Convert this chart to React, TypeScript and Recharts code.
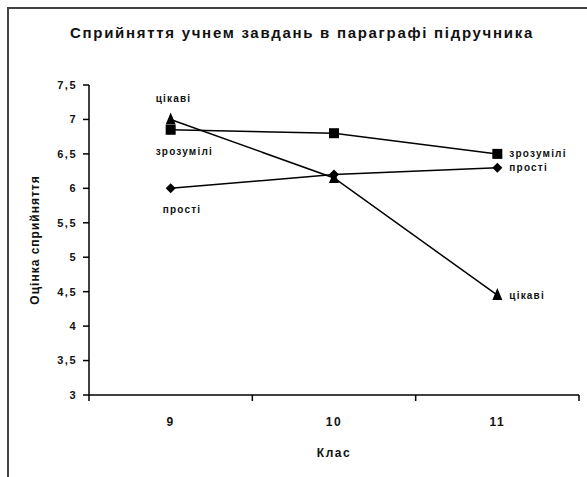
import React from 'react';
import { LineChart, Line, XAxis, YAxis, LabelList } from 'recharts';

const classes = [9, 10, 11];
const prosti = [6.0, 6.2, 6.3];
const zrozumili = [6.85, 6.8, 6.5];
const tsikavi = [7.0, 6.15, 4.45];
const yTicks = [3, 3.5, 4, 4.5, 5, 5.5, 6, 6.5, 7, 7.5];
const xTicks = [8.5, 9, 9.5, 10, 10.5, 11, 11.5];

const data = classes.map((klas, i) => ({
  klas,
  prosti: prosti[i],
  zrozumili: zrozumili[i],
  tsikavi: tsikavi[i],
}));

const FONT = '"Liberation Sans", Arial, sans-serif';

const Diamond = (p: any) => {
  const { cx, cy } = p;
  return (
    <path
      key={`d-${p.index}`}
      d={`M${cx},${cy - 5} L${cx + 5},${cy} L${cx},${cy + 5} L${cx - 5},${cy} Z`}
      fill="#000"
    />
  );
};

const Square = (p: any) => (
  <rect key={`s-${p.index}`} x={p.cx - 5} y={p.cy - 5} width={10} height={10} fill="#000" />
);

const Triangle = (p: any) => {
  const { cx, cy } = p;
  return (
    <path
      key={`t-${p.index}`}
      d={`M${cx},${cy - 7} L${cx + 5},${cy + 5} L${cx - 5},${cy + 5} Z`}
      fill="#000"
    />
  );
};

// Excel-style point labels: first point gets its own offset, last one goes to the right
const makeLabel = (name: string, dx: number, dy: number) => (props: any) => {
  const x = props.x ?? props.viewBox?.x;
  const y = props.y ?? props.viewBox?.y;
  if (props.index === 1) return <g />;
  const style = { fontFamily: FONT, fontSize: 10, fontWeight: 700, letterSpacing: 1.2 };
  if (props.index === 0) {
    return (
      <text x={x + dx} y={y + dy} dominantBaseline="central" fill="#111" style={style}>
        {name}
      </text>
    );
  }
  return (
    <text x={x + 12} y={y} dominantBaseline="central" fill="#111" style={style}>
      {name}
    </text>
  );
};

const XTick = (props: any) => {
  const { x, y, payload } = props;
  const v = payload.value;
  if (v % 1 !== 0) {
    return <line x1={x} x2={x} y1={y} y2={y + 6} stroke="#000" strokeWidth={1.5} />;
  }
  return (
    <text
      x={x}
      y={y + 27}
      textAnchor="middle"
      dominantBaseline="central"
      fill="#111"
      style={{ fontFamily: FONT, fontSize: 12, fontWeight: 700, letterSpacing: 1.5 }}
    >
      {v}
    </text>
  );
};

export default function App() {
  return (
    <div
      style={{
        position: 'fixed',
        left: 7,
        top: 7,
        width: 600,
        height: 490,
        borderLeft: '2px solid #444',
        borderTop: '2px solid #444',
        background: '#fff',
        overflow: 'hidden',
      }}
    >
      <div
        style={{
          position: 'absolute',
          top: 15,
          left: 0,
          width: 586,
          textAlign: 'center',
          fontFamily: FONT,
          fontSize: 15,
          fontWeight: 700,
          letterSpacing: 1.7,
          color: '#111',
        }}
      >
        Сприйняття учнем завдань в параграфі підручника
      </div>
      <LineChart
        width={578}
        height={470}
        data={data}
        margin={{ top: 76, right: 8, bottom: 0, left: 0 }}
      >
        <XAxis
          dataKey="klas"
          type="number"
          domain={[8.5, 11.5]}
          ticks={xTicks}
          interval={0}
          tickLine={false}
          tickSize={0}
          tickMargin={0}
          tick={<XTick />}
          height={84}
          axisLine={{ stroke: '#000', strokeWidth: 1.5 }}
          label={{
            value: 'Клас',
            position: 'insideBottom',
            offset: 22,
            style: { fontFamily: FONT, fontSize: 12, fontWeight: 700, letterSpacing: 1.5, fill: '#111' },
          }}
        />
        <YAxis
          domain={[3, 7.5]}
          ticks={yTicks}
          interval={0}
          width={80}
          tickSize={6}
          tickMargin={6}
          tickFormatter={(v: number) => String(v).replace('.', ',')}
          tick={{ fontFamily: FONT, fontSize: 11, fontWeight: 700, fill: '#111', letterSpacing: 1.5 }}
          axisLine={{ stroke: '#000', strokeWidth: 1.5 }}
          tickLine={{ stroke: '#000', strokeWidth: 1.5 }}
          label={{
            value: 'Оцінка сприйняття',
            angle: -90,
            position: 'center',
            dx: -14,
            style: { fontFamily: FONT, fontSize: 12, fontWeight: 700, letterSpacing: 1, fill: '#111' },
          }}
        />
        <Line
          dataKey="prosti"
          stroke="#000"
          strokeWidth={1.5}
          dot={Diamond}
          activeDot={false}
          isAnimationActive={false}
        >
          <LabelList dataKey="prosti" content={makeLabel('прості', -8, 21)} />
        </Line>
        <Line
          dataKey="zrozumili"
          stroke="#000"
          strokeWidth={1.5}
          dot={Square}
          activeDot={false}
          isAnimationActive={false}
        >
          <LabelList dataKey="zrozumili" content={makeLabel('зрозумілі', -15, 22)} />
        </Line>
        <Line
          dataKey="tsikavi"
          stroke="#000"
          strokeWidth={1.5}
          dot={Triangle}
          activeDot={false}
          isAnimationActive={false}
        >
          <LabelList dataKey="tsikavi" content={makeLabel('цікаві', -15, -21)} />
        </Line>
      </LineChart>
    </div>
  );
}
